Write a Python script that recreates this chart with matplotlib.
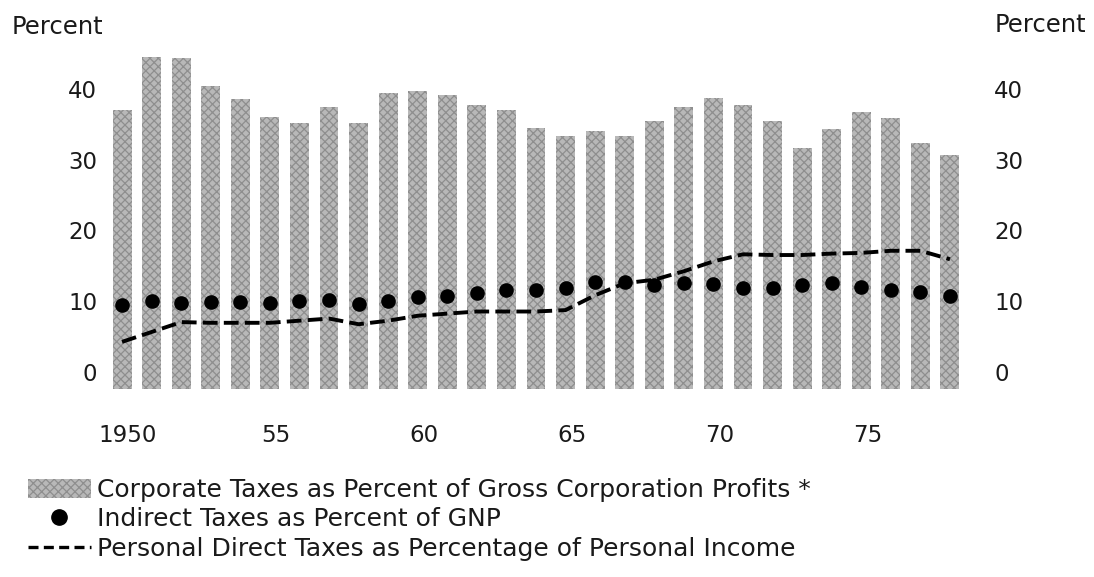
import matplotlib
matplotlib.use("Agg")
import matplotlib.pyplot as plt
import matplotlib.transforms as mtransforms
from matplotlib.patches import Patch
from matplotlib.lines import Line2D

years = list(range(1950, 1979))
corporate = [37.0, 44.6, 44.4, 40.5, 38.6, 36.1, 35.2, 37.5, 35.2, 39.4,
             39.7, 39.2, 37.8, 37.0, 34.5, 33.4, 34.0, 33.4, 35.5, 37.5,
             38.8, 37.8, 35.5, 31.7, 34.3, 36.7, 35.9, 32.4, 30.7]
indirect = [9.4, 10.0, 9.7, 9.9, 9.8, 9.7, 10.0, 10.1, 9.6, 10.0,
            10.5, 10.7, 11.1, 11.5, 11.6, 11.9, 12.7, 12.7, 12.3, 12.5,
            12.4, 11.9, 11.8, 12.3, 12.5, 12.0, 11.5, 11.2, 10.7]
personal = [4.2, 5.6, 7.0, 6.9, 6.9, 6.9, 7.2, 7.5, 6.7, 7.2,
            7.9, 8.2, 8.5, 8.5, 8.5, 8.7, 10.8, 12.5, 13.0, 14.2,
            15.6, 16.6, 16.5, 16.5, 16.7, 16.8, 17.1, 17.1, 15.9]
xtick_years = [1950, 1955, 1960, 1965, 1970, 1975]
xtick_labels = ["1950", "55", "60", "65", "70", "75"]
yticks = [0, 10, 20, 30, 40]

legend_labels = ["Corporate Taxes as Percent of Gross Corporation Profits *",
                 "Indirect Taxes as Percent of GNP",
                 "Personal Direct Taxes as Percentage of Personal Income"]

plt.rcParams['font.family'] = ['DejaVu Sans']
plt.rcParams['hatch.linewidth'] = 0.9

W, H = 1094, 577
fig = plt.figure(figsize=(W / 100, H / 100), dpi=100)
ax = fig.add_axes([104.3 / W, 1 - 390.6 / H, (967.7 - 104.3) / W, (390.6 - 46.7) / H])

base = -2.5
bar_fc = '#b8b8b8'
bar_hc = '#8e8e8e'
ax.bar(years, [v - base for v in corporate], bottom=base, width=0.64,
       color=bar_fc, edgecolor=bar_hc, linewidth=0, hatch='xxxx')
ax.plot(years, personal, color='black', lw=2.8, dashes=(3.8, 1.6),
        solid_capstyle='butt', dash_capstyle='butt')
ax.plot(years, indirect, 'o', color='black', markersize=9.5, linestyle='none')

ax.set_xlim(1949.4, 1978.6)
ax.set_ylim(-2.7, 46)
for s in ax.spines.values():
    s.set_visible(False)

ax.set_xticks(xtick_years)
ax.set_xticklabels(xtick_labels, fontsize=16.5, color='#1a1a1a')
ax.tick_params(axis='x', length=0, pad=24)
off = mtransforms.ScaledTranslation(6 / 100, 0, fig.dpi_scale_trans)
for lab in ax.get_xticklabels():
    lab.set_transform(lab.get_transform() + off)

ax.set_yticks(yticks)
ax.set_yticklabels([str(v) for v in yticks], fontsize=16.5, color='#1a1a1a')
ax.tick_params(axis='y', length=0, pad=5)

ax2 = ax.twinx()
ax2.set_ylim(ax.get_ylim())
for s in ax2.spines.values():
    s.set_visible(False)
ax2.set_yticks(yticks)
ax2.set_yticklabels([str(v) for v in yticks], fontsize=16.5, color='#1a1a1a')
ax2.tick_params(axis='y', length=0, pad=19)

fig.text(12 / W, 1 - 27 / H, "Percent", fontsize=17.5, ha='left', va='center', color='#1a1a1a')
fig.text(995 / W, 1 - 25 / H, "Percent", fontsize=17.5, ha='left', va='center', color='#1a1a1a')

handles = [Patch(facecolor=bar_fc, edgecolor=bar_hc, linewidth=0, hatch='xxxx'),
           Line2D([], [], marker='o', color='black', markersize=11, linestyle='none'),
           Line2D([], [], color='black', lw=2.4, dashes=(3, 1.6))]
fig.legend(handles, legend_labels, loc='upper left',
           bbox_to_anchor=(28 / W, 1 - 478 / H), frameon=False,
           fontsize=18, handlelength=2.5, handleheight=0.8,
           handletextpad=0.25, labelspacing=0.22, borderpad=0, borderaxespad=0,
           labelcolor='#1a1a1a')

fig.savefig("out.png", dpi=100)
